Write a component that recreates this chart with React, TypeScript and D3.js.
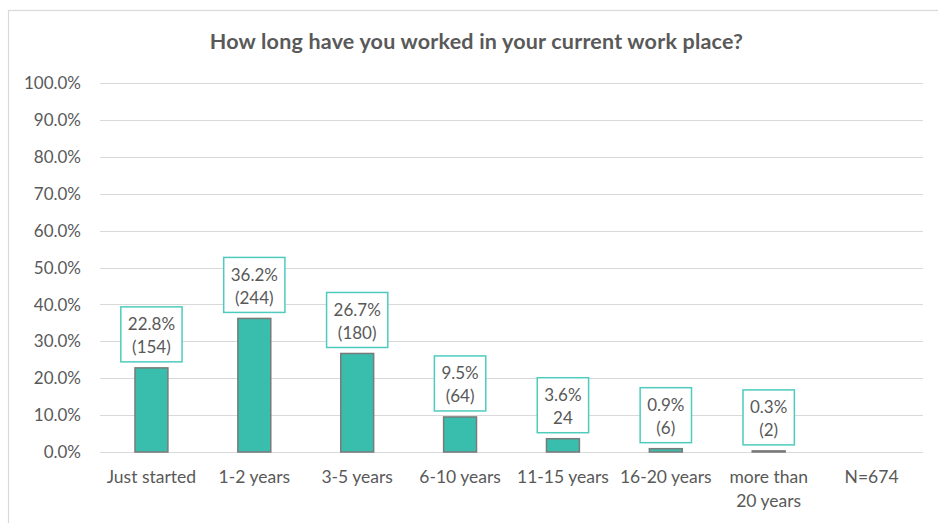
import React, { useMemo } from "react";
import * as d3 from "d3";

const categories = ["Just started", "1-2 years", "3-5 years", "6-10 years", "11-15 years", "16-20 years", "more than 20 years", "N=674"];
const categoryLines = [["Just started"], ["1-2 years"], ["3-5 years"], ["6-10 years"], ["11-15 years"], ["16-20 years"], ["more than", "20 years"], ["N=674"]];
const percentValues: (number | null)[] = [22.8, 36.2, 26.7, 9.5, 3.6, 0.9, 0.3, null];
const percentLabels = ["22.8%", "36.2%", "26.7%", "9.5%", "3.6%", "0.9%", "0.3%", ""];
const countLabels = ["(154)", "(244)", "(180)", "(64)", "24", "(6)", "(2)", ""];
const yTicks = [0, 10, 20, 30, 40, 50, 60, 70, 80, 90, 100];
const title = "How long have you worked in your current work place?";

const W = 938;
const H = 523;
const FONT = "Lato, 'Open Sans', sans-serif";
const TEXT = "#595959";

function measure(text: string, font: string): number {
  if (typeof document === "undefined") return text.length * 9;
  const c = document.createElement("canvas");
  const ctx = c.getContext("2d");
  if (!ctx) return text.length * 9;
  ctx.font = font;
  return ctx.measureText(text).width;
}

export default function App() {
  const x = d3.scaleBand<string>().domain(categories).range([100, 923]).paddingInner(0.68).paddingOuter(0.34);
  const y = d3.scaleLinear().domain([0, 100]).range([452, 83]);

  const boxWidths = useMemo(
    () => percentLabels.map((p, i) => Math.max(measure(p, `17px Lato`), measure(countLabels[i], `17px Lato`)) + 14),
    []
  );

  return (
    <svg width={W} height={H} style={{ position: "absolute", left: 0, top: 0, background: "#fff" }} fontFamily={FONT}>
      <rect x={0} y={0} width={W} height={H} fill="#fff" />
      <rect x={8.5} y={10.5} width={W + 10} height={H + 10} fill="#fff" stroke="#d9d9d9" strokeWidth={1.2} />
      <text x={476.5} y={49} textAnchor="middle" fontSize={21.5} fontWeight="bold" fill={TEXT} letterSpacing={0.2}>
        {title}
      </text>
      {yTicks.map((t) => (
        <g key={t}>
          <line x1={100} x2={923} y1={Math.round(y(t)) + 0.5} y2={Math.round(y(t)) + 0.5} stroke="#d9d9d9" strokeWidth={1} />
          <text x={81} y={y(t)} dy="0.36em" textAnchor="end" fontSize={17} fill={TEXT}>
            {t.toFixed(1)}%
          </text>
        </g>
      ))}
      {categories.map((c, i) => {
        const v = percentValues[i];
        const cx = (x(c) as number) + x.bandwidth() / 2;
        const lines = categoryLines[i];
        return (
          <g key={c}>
            {v !== null && (
              <rect
                x={x(c) as number}
                y={y(v)}
                width={x.bandwidth()}
                height={y(0) - y(v)}
                fill="#39BDAC"
                stroke="#7a7a7a"
                strokeWidth={1.5}
              />
            )}
            {v !== null && (
              <g>
                <rect
                  x={cx - boxWidths[i] / 2}
                  y={y(v) - 6 - 55}
                  width={boxWidths[i]}
                  height={55}
                  fill="#fff"
                  stroke="#4ECBBD"
                  strokeWidth={1.5}
                />
                <text x={cx} y={y(v) - 6 - 55 + 17} dy="0.36em" textAnchor="middle" fontSize={17} fill={TEXT}>
                  {percentLabels[i]}
                </text>
                <text x={cx} y={y(v) - 6 - 55 + 40} dy="0.36em" textAnchor="middle" fontSize={17} fill={TEXT}>
                  {countLabels[i]}
                </text>
              </g>
            )}
            {lines.map((l, j) => (
              <text key={j} x={cx} y={483 + j * 23.5} textAnchor="middle" fontSize={17.5} fill={TEXT}>
                {l}
              </text>
            ))}
          </g>
        );
      })}
    </svg>
  );
}
